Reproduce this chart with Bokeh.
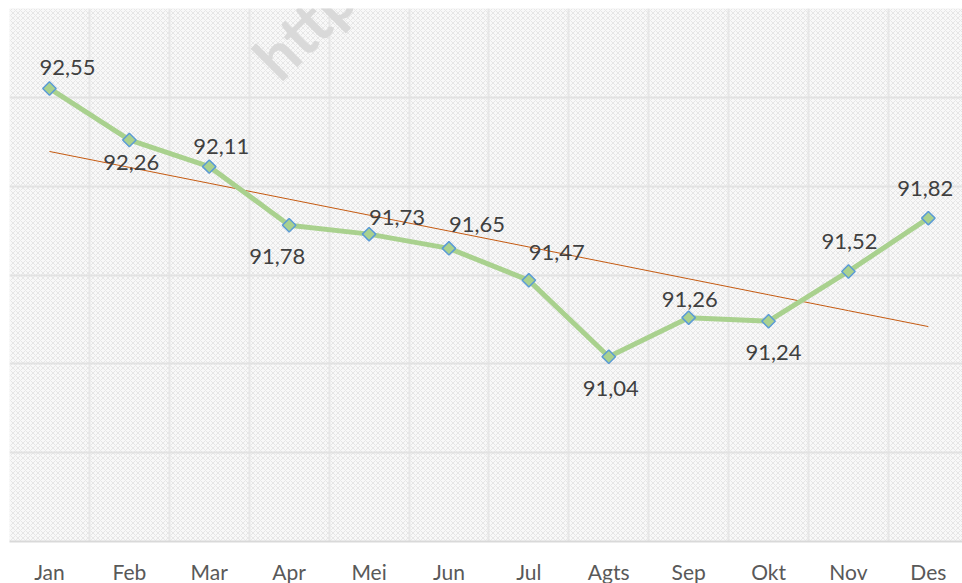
import numpy as np
from bokeh.plotting import figure
from bokeh.models import ColumnDataSource, LabelSet, FixedTicker, BoxAnnotation, SingleIntervalTicker
from bokeh.core.properties import value
from bokeh.embed import file_html
from bokeh.resources import INLINE

months = ["Jan", "Feb", "Mar", "Apr", "Mei", "Jun", "Jul", "Agts", "Sep", "Okt", "Nov", "Des"]
values = [92.55, 92.26, 92.11, 91.78, 91.73, 91.65, 91.47, 91.04, 91.26, 91.24, 91.52, 91.82]
label_dx = [18, 2, 12, -12, 28, 28, 28, 2, 1, 5, 1, -3]
label_dy = [21, -23, 20, -31, 17, 24, 28, -32, 18, -31, 30, 30]

xs = list(range(len(months)))
labels = [f"{v:.2f}".replace(".", ",") for v in values]

slope, intercept = np.polyfit(xs, values, 1)
trend = [slope * x + intercept for x in xs]

FW, FH = 953, 533
p = figure(frame_width=FW, frame_height=FH, output_backend="svg", toolbar_location=None,
           x_range=(-0.5, -0.5 + FW / 79.9), y_range=(90, 93),
           min_border_left=9, min_border_right=0, min_border_top=8, min_border_bottom=0)
p.outline_line_color = None
p.background_fill_color = "#f7f7f7"
p.border_fill_color = "white"

bg = BoxAnnotation(fill_color="#f8f8f8", fill_alpha=1, line_alpha=0,
                   hatch_pattern="diagonal_cross", hatch_color="#e6e6e6",
                   hatch_scale=5, hatch_weight=1, level="image")
p.add_layout(bg)

p.yaxis.visible = False
p.ygrid.ticker = SingleIntervalTicker(interval=0.5)
p.ygrid.grid_line_color = "#e2e2e2"
p.ygrid.grid_line_width = 2
p.xgrid.ticker = FixedTicker(ticks=[x + 0.5 for x in xs])
p.xgrid.grid_line_color = "#e6e6e6"
p.xgrid.grid_line_width = 2

p.xaxis.ticker = FixedTicker(ticks=xs)
p.xaxis.major_label_overrides = {x: m for x, m in zip(xs, months)}
p.xaxis.axis_line_color = "#d9d9d9"
p.xaxis.axis_line_width = 2
p.xaxis.major_tick_line_color = None
p.xaxis.minor_tick_line_color = None
p.xaxis.major_tick_out = 0
p.xaxis.major_tick_in = 0
p.xaxis.major_label_standoff = 17
p.xaxis.major_label_text_font = "Lato"
p.xaxis.major_label_text_font_size = "21px"
p.xaxis.major_label_text_color = "#595959"

# watermark
p.text(x=[2.68], y=[92.67], text=["http://"], angle=45, angle_units="deg",
       text_font=value("Lato"), text_font_style="bold", text_font_size="62px",
       text_color="#d9d9d9", text_baseline="alphabetic", text_align="left")

p.line(xs, trend, line_color="#C55A11", line_width=1)
p.line(xs, values, line_color="#A9D18E", line_width=5)
p.scatter(xs, values, marker="square", size=9.5, angle=np.pi / 4, fill_color="#A9D18E",
          line_color="#5B9BD5", line_width=1.5)

src = ColumnDataSource(dict(x=xs, y=values, t=labels, dx=label_dx, dy=label_dy))
p.add_layout(LabelSet(x="x", y="y", text="t", source=src, x_offset="dx", y_offset="dy",
                      text_align="center", text_baseline="middle",
                      text_font=value("Lato"), text_font_size="22px", text_color="#404040"))

open("out.html", "w").write(file_html(p, INLINE))
